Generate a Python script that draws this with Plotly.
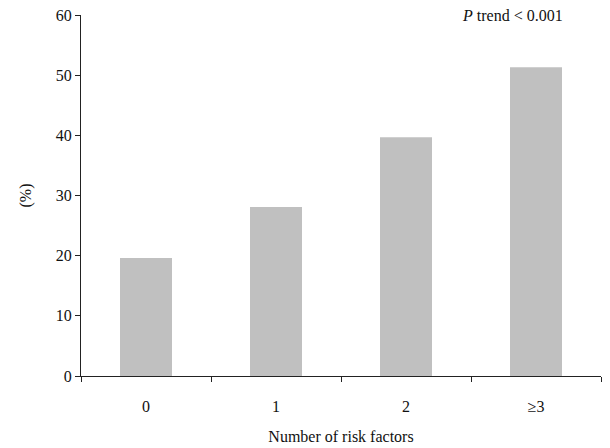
import plotly.graph_objects as go

categories = ["0", "1", "2", "≥3"]
values = [19.6, 28.1, 39.7, 51.3]
y_ticks = [0, 10, 20, 30, 40, 50, 60]

FONT = "Liberation Serif, Times New Roman, serif"

fig = go.Figure(go.Bar(
    x=categories, y=values,
    marker=dict(color="#c0c0c0", line=dict(width=0)),
    width=0.4,
))

fig.update_layout(
    width=610, height=448,
    margin=dict(l=81, r=9, t=15, b=72),
    plot_bgcolor="white", paper_bgcolor="white",
    font=dict(family=FONT, size=16, color="#111"),
    showlegend=False,
    bargap=0.6,
)
fig.update_xaxes(
    type="category", range=[-0.5, 3.5], automargin=False,
    showline=True, linecolor="#222", linewidth=1,
    ticks="outside", tickson="boundaries", ticklen=5, tickcolor="#222",
    ticklabelstandoff=16,
    showgrid=False, zeroline=False,
    title=dict(text="Number of risk factors", standoff=16, font=dict(size=16)),
)
fig.update_yaxes(
    range=[0, 60], tickvals=y_ticks, automargin=False,
    showline=True, linecolor="#222", linewidth=1,
    ticks="outside", ticklen=5, tickcolor="#222",
    showgrid=False, zeroline=False,
    title=dict(text="(%)", standoff=20, font=dict(size=16)),
)
fig.add_annotation(
    xref="paper", yref="paper", x=0.93, y=1.0, xanchor="right", yanchor="middle",
    text="<i>P</i> trend < 0.001", showarrow=False, font=dict(size=16),
)

fig.write_html("out.html")
